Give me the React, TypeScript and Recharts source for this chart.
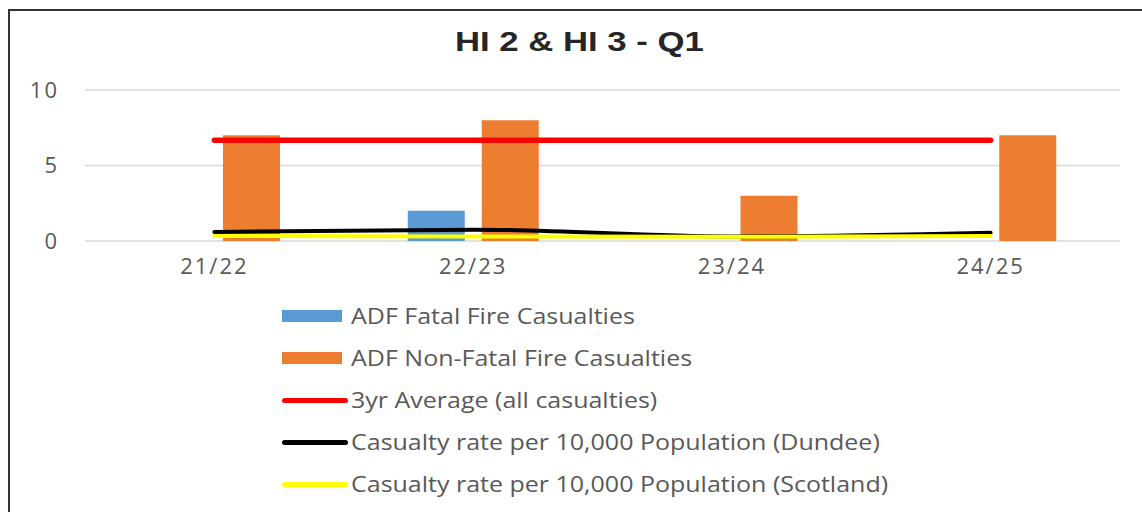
import React from 'react';
import { ComposedChart, Bar, Line, XAxis, YAxis, CartesianGrid, Legend } from 'recharts';

const categories = ['21/22', '22/23', '23/24', '24/25'];
const fatalCasualties = [0, 2, 0, 0];
const nonFatalCasualties = [7, 8, 3, 7];
const threeYearAverage = [6.67, 6.67, 6.67, 6.67];
const dundeeRate = [0.6, 0.75, 0.3, 0.55];
const scotlandRate = [0.33, 0.3, 0.28, 0.33];
const yTicks = [0, 5, 10];

const data = categories.map((c, i) => ({
  cat: c,
  fatal: fatalCasualties[i],
  nonFatal: nonFatalCasualties[i],
  avg: threeYearAverage[i],
  dundee: dundeeRate[i],
  scotland: scotlandRate[i],
}));

const legendItems = [
  { label: 'ADF Fatal Fire Casualties', color: '#5b9bd5', kind: 'bar' },
  { label: 'ADF Non-Fatal Fire Casualties', color: '#ed7d31', kind: 'bar' },
  { label: '3yr Average (all casualties)', color: '#ff0000', kind: 'line' },
  { label: 'Casualty rate per 10,000 Population (Dundee)', color: '#000000', kind: 'line' },
  { label: 'Casualty rate per 10,000 Population (Scotland)', color: '#ffff00', kind: 'line' },
];

const LegendContent = () => (
  <div style={{ height: 210, paddingLeft: 274, fontFamily: '"Open Sans", sans-serif', fontSize: 21, color: '#595959' }}>
    {legendItems.map((it) => (
      <div key={it.label} style={{ height: 42, display: 'flex', alignItems: 'center' }}>
        {it.kind === 'bar' ? (
          <div style={{ width: 60, height: 12, background: it.color, marginRight: 9 }} />
        ) : (
          <div style={{ width: 66, height: 5, background: it.color, borderRadius: 3, marginRight: 3 }} />
        )}
        <span style={{ whiteSpace: 'nowrap', display: 'inline-block', transform: 'scaleX(1.19)', transformOrigin: 'left center' }}>
          {it.label}
        </span>
      </div>
    ))}
  </div>
);

export default function App() {
  const tickStyle = { fill: '#595959', fontSize: 22, fontFamily: '"Open Sans", sans-serif', letterSpacing: 2 };
  return (
    <div style={{ position: 'fixed', top: 0, left: 0, width: 1142, height: 512, overflow: 'hidden', background: '#fff' }}>
      <div style={{ position: 'absolute', top: 9, left: 8, width: 1134, height: 2, background: '#333', zIndex: 2 }} />
      <div style={{ position: 'absolute', top: 9, left: 8, width: 2, height: 503, background: '#333', zIndex: 2 }} />
      <div
        style={{
          position: 'absolute',
          top: 22,
          left: 0,
          width: 1142,
          textAlign: 'center',
          fontFamily: '"Liberation Sans", Arial, sans-serif',
          fontWeight: 'bold',
          fontSize: 28,
          lineHeight: '40px',
          color: '#262626',
          zIndex: 1,
        }}
      >
        <span style={{ display: 'inline-block', transform: 'translateX(8px) scaleX(1.24)' }}>HI 2 &amp; HI 3 - Q1</span>
      </div>
      <div style={{ position: 'absolute', top: 8, left: 8 }}>
        <ComposedChart
          width={1134}
          height={504}
          data={data}
          margin={{ top: 82, right: 22, left: 17, bottom: 7 }}
          barGap={17}
        >
          <CartesianGrid vertical={false} stroke="#d9d9d9" strokeWidth={1.5} />
          <XAxis
            dataKey="cat"
            axisLine={false}
            tickLine={false}
            tickSize={0}
            tickMargin={17}
            height={54}
            tick={tickStyle}
            interval={0}
          />
          <YAxis
            domain={[0, 10]}
            ticks={yTicks}
            axisLine={false}
            tickLine={false}
            tickSize={0}
            tickMargin={26}
            width={60}
            tick={tickStyle}
          />
          <Legend verticalAlign="bottom" align="left" content={<LegendContent />} wrapperStyle={{ left: 0, bottom: 7, width: 1134 }} />
          <Bar dataKey="fatal" name="ADF Fatal Fire Casualties" fill="#5b9bd5" barSize={57} isAnimationActive={false} />
          <Bar dataKey="nonFatal" name="ADF Non-Fatal Fire Casualties" fill="#ed7d31" barSize={57} isAnimationActive={false} />
          <Line dataKey="avg" name="3yr Average (all casualties)" type="linear" stroke="#ff0000" strokeWidth={5.5} strokeLinecap="round" dot={false} isAnimationActive={false} />
          <Line dataKey="dundee" name="Casualty rate per 10,000 Population (Dundee)" type="monotone" stroke="#000000" strokeWidth={4} strokeLinecap="round" dot={false} isAnimationActive={false} />
          <Line dataKey="scotland" name="Casualty rate per 10,000 Population (Scotland)" type="monotone" stroke="#ffff00" strokeWidth={4} strokeLinecap="round" dot={false} isAnimationActive={false} />
        </ComposedChart>
      </div>
    </div>
  );
}
